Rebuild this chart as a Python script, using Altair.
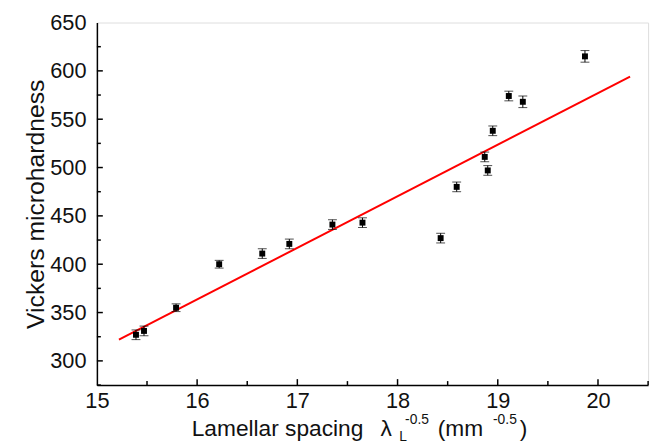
import altair as alt
import pandas as pd

# ---- data ----
spacing = [15.39, 15.47, 15.79, 16.22, 16.65, 16.92, 17.35, 17.65,
           18.43, 18.59, 18.87, 18.90, 18.95, 19.11, 19.25, 19.87]
hardness = [327, 331, 355, 400, 411, 421, 441, 443,
            427, 480, 511, 497, 538, 574, 568, 615]
error = [5, 5, 4, 4, 5, 5, 5, 5, 5, 5, 5, 5, 5, 5, 6, 6]

fit_x = [15.22, 20.32]
fit_y = [322, 594]

x_major = [16, 17, 18, 19, 20]
x_minor = [15.5, 16.5, 17.5, 18.5, 19.5, 20.5]
y_major = [300, 350, 400, 450, 500, 550, 600]
y_minor = [275, 325, 375, 425, 475, 525, 575, 625]
x_labels = [15, 16, 17, 18, 19, 20]
y_labels = [300, 350, 400, 450, 500, 550, 600, 650]

W, H = 558, 367
FONT = "Liberation Sans"
TXT = "#111111"

pts = pd.DataFrame({"x": spacing, "y": hardness,
                    "lo": [h - e for h, e in zip(hardness, error)],
                    "hi": [h + e for h, e in zip(hardness, error)]})
fit = pd.DataFrame({"x": fit_x, "y": fit_y})

xs = alt.Scale(domain=[15, 20.5], nice=False, zero=False)
ys = alt.Scale(domain=[275, 650], nice=False, zero=False)

xaxis = alt.Axis(values=x_labels, ticks=False, grid=False, title=None,
                 labelFontSize=22, labelColor=TXT, labelFont=FONT,
                 labelPadding=6, domainColor="black", domainWidth=1.5,
                 labelFlush=False)
yaxis = alt.Axis(values=y_labels, ticks=False, grid=False,
                 title="Vickers microhardness", titleFontSize=25,
                 titleFontWeight="normal", titleFont=FONT, titleColor=TXT,
                 titleX=-54, titleY=H / 2, titleAngle=270,
                 titleAlign="center", titleBaseline="alphabetic",
                 labelFontSize=22, labelColor=TXT, labelFont=FONT,
                 labelPadding=11, domainColor="black", domainWidth=1.5,
                 labelFlush=False)

base = alt.Chart(pts)

bars = base.mark_rule(color="black", strokeWidth=1).encode(
    x=alt.X("x:Q", scale=xs, axis=xaxis),
    y=alt.Y("lo:Q", scale=ys, axis=yaxis),
    y2="hi:Q")
cap_lo = base.mark_tick(color="black", thickness=1, size=9, orient="horizontal").encode(
    x=alt.X("x:Q", scale=xs, axis=xaxis), y=alt.Y("lo:Q", scale=ys, axis=yaxis))
cap_hi = base.mark_tick(color="black", thickness=1, size=9, orient="horizontal").encode(
    x=alt.X("x:Q", scale=xs, axis=xaxis), y=alt.Y("hi:Q", scale=ys, axis=yaxis))
squares = base.mark_square(color="black", filled=True, size=36, opacity=1).encode(
    x=alt.X("x:Q", scale=xs, axis=xaxis), y=alt.Y("y:Q", scale=ys, axis=yaxis))

line = alt.Chart(fit).mark_line(color="#ff0000", strokeWidth=2).encode(
    x=alt.X("x:Q", scale=xs, axis=xaxis), y=alt.Y("y:Q", scale=ys, axis=yaxis))

def xticks(vals, length):
    return alt.Chart(pd.DataFrame({"v": vals})).mark_rule(color="black", strokeWidth=1.5).encode(
        x=alt.X("v:Q", scale=xs, axis=xaxis), y=alt.value(H), y2=alt.value(H - length))

def yticks(vals, length):
    return alt.Chart(pd.DataFrame({"v": vals})).mark_rule(color="black", strokeWidth=1.5).encode(
        y=alt.Y("v:Q", scale=ys, axis=yaxis), x=alt.value(0), x2=alt.value(length))

def label(text, x, y, size):
    return alt.Chart(pd.DataFrame({"t": [text]})).mark_text(
        align="left", baseline="alphabetic", font=FONT, fontSize=size, color=TXT
    ).encode(text="t:N", x=alt.value(x), y=alt.value(y))

title_parts = [
    label("Lamellar spacing", 96, 419, 23),
    label("λ", 287, 419, 23),
    label("L", 306, 424, 14),
    label("-0.5", 312, 406, 14),
    label("(mm", 345, 419, 23),
    label("-0.5", 401, 406, 14),
    label(")", 428, 419, 23),
]

chart = alt.layer(
    xticks(x_major, 6), xticks(x_minor, 4), yticks(y_major, 6), yticks(y_minor, 4),
    line, bars, cap_lo, cap_hi, squares, *title_parts
).properties(
    width=W, height=H,
    autosize=alt.AutoSizeParams(type="none"),
    padding={"left": 90, "top": 12, "right": 8, "bottom": 60},
).configure_view(stroke="black", strokeWidth=1.5).configure(background="white")

chart.save("out.html", embed_options={"renderer": "svg", "actions": False})
